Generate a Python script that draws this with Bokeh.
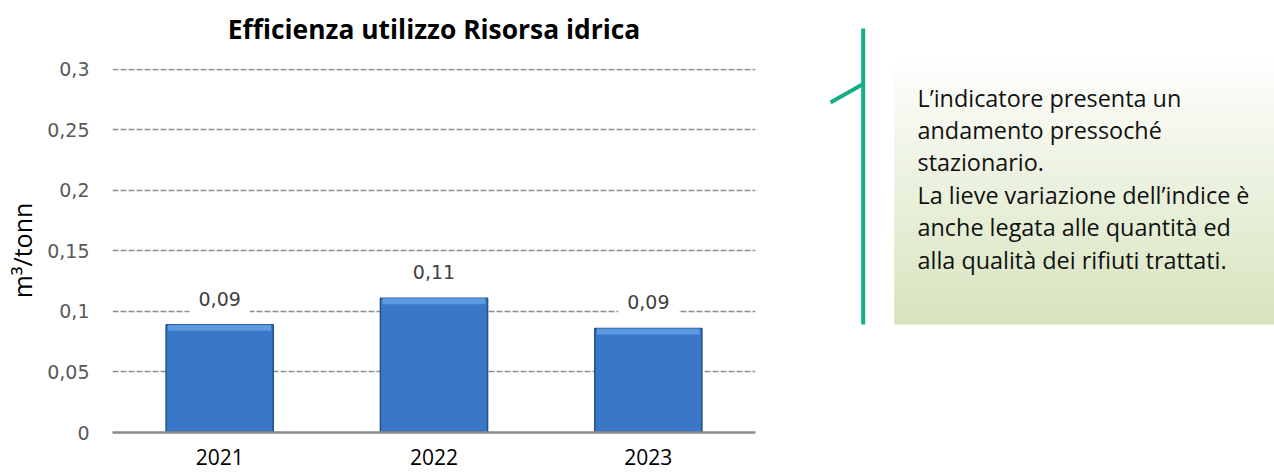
from bokeh.plotting import figure
from bokeh.models import FactorRange, Range1d, FixedTicker, ColumnDataSource, Title
from bokeh.layouts import row
from bokeh.embed import file_html
from bokeh.resources import INLINE
from bokeh.core.properties import value

# ---------------- data ----------------
years = ["2021", "2022", "2023"]
values = [0.089, 0.111, 0.086]
value_labels = ["0,09", "0,11", "0,09"]
y_ticks = [0, 0.05, 0.1, 0.15, 0.2, 0.25, 0.3]
y_tick_labels = ["0", "0,05", "0,1", "0,15", "0,2", "0,25", "0,3"]
title_text = "Efficienza utilizzo Risorsa idrica"
y_title = "m³/tonn"
note_lines = [
    "L’indicatore presenta un",
    "andamento pressoché",
    "stazionario.",
    "La lieve variazione dell’indice è",
    "anche legata alle quantità ed",
    "alla qualità dei rifiuti trattati.",
]

# ---------------- chart ----------------
p = figure(width=800, height=472, x_range=FactorRange(*years),
           y_range=Range1d(0, 0.3008), output_backend="svg", toolbar_location=None,
           min_border_left=112, min_border_right=45, min_border_top=68,
           min_border_bottom=40)
p.outline_line_color = None
p.background_fill_color = "white"

# spacer between frame and title, pushes the title upwards
p.add_layout(Title(text=" ", text_font_size="4px"), "above")

p.title.text = title_text
p.title.align = "center"
p.title.text_font = "Open Sans"
p.title.text_font_style = "bold"
p.title.text_font_size = "26.4px"
p.title.text_color = "black"

src = ColumnDataSource(dict(x=years, top=values, lab=value_labels,
                            hl=[v - 0.005 for v in values]))

p.vbar(x="x", top="top", width=0.5, source=src, fill_color="#3a77c6",
       line_color="#24508c", line_width=1.5)
p.vbar(x="x", top="top", bottom="hl", width=0.48, source=src,
       fill_color="#5c9ae2", line_color=None)

p.text(x="x", y="top", text="lab", source=src, y_offset=-26,
       text_align="center", text_baseline="middle",
       text_font=value("DejaVu Sans"), text_font_size="19px",
       text_color="#404040", background_fill_color="white", padding=9)

p.xgrid.grid_line_color = None
p.ygrid.grid_line_color = "#8e8e8e"
p.ygrid.grid_line_width = 1.5
p.ygrid.grid_line_dash = "6 2"

p.yaxis.ticker = FixedTicker(ticks=y_ticks)
p.yaxis.major_label_overrides = {t: l for t, l in zip(y_ticks, y_tick_labels)}
p.yaxis.axis_line_color = None
p.yaxis.major_tick_line_color = None
p.yaxis.minor_tick_line_color = None
p.yaxis.major_tick_out = 0
p.yaxis.major_tick_in = 0
p.yaxis.major_label_standoff = 23
p.yaxis.major_label_text_font = "DejaVu Sans"
p.yaxis.major_label_text_font_size = "19px"
p.yaxis.major_label_text_color = "#595959"
p.yaxis.axis_label = y_title
p.yaxis.axis_label_standoff = 5
p.yaxis.axis_label_text_font = "Open Sans"
p.yaxis.axis_label_text_font_style = "normal"
p.yaxis.axis_label_text_font_size = "25px"
p.yaxis.axis_label_text_color = "black"

p.xaxis.axis_line_color = "#8a8a8a"
p.xaxis.axis_line_width = 2.5
p.xaxis.major_tick_line_color = None
p.xaxis.major_tick_out = 0
p.xaxis.major_tick_in = 0
p.xaxis.major_label_standoff = 16
p.xaxis.major_label_text_font = "Open Sans"
p.xaxis.major_label_text_font_size = "21px"
p.xaxis.major_label_text_color = "black"

# ---------------- note panel ----------------
q = figure(width=474, height=472, x_range=Range1d(0, 474),
           output_backend="svg", toolbar_location=None, min_border=0)
if "frame_align" in q.properties():
    p.frame_align = False
    q.frame_align = False
    q.y_range = Range1d(472, 0)
else:
    q.min_border_top = 68
    q.min_border_bottom = 40
    q.y_range = Range1d(432, 68)
q.axis.visible = False
q.grid.grid_line_color = None
q.outline_line_color = None

n = 90
top_y, bot_y = 53, 324
c0 = (255, 255, 255)
c1 = (214, 227, 188)
tops, bots, cols = [], [], []
for i in range(n):
    t = i / (n - 1)
    tops.append(top_y + (bot_y - top_y) * i / n)
    bots.append(top_y + (bot_y - top_y) * (i + 1) / n)
    cols.append("#%02x%02x%02x" % tuple(round(a + (b - a) * t) for a, b in zip(c0, c1)))
q.quad(left=94, right=474, top=tops, bottom=bots, fill_color=cols, line_color=cols,
       line_width=0.5)

q.segment(x0=[62.7, 30], y0=[28, 102], x1=[62.7, 62.7], y1=[324, 83.5],
          line_color="#14ae86", line_width=4)

q.text(x=[117] * len(note_lines), y=[97 + 32.4 * i for i in range(len(note_lines))],
       text=note_lines, text_font=value("Open Sans"), text_font_size="23.4px",
       text_color="#111111", text_baseline="middle", text_align="left")

layout = row(p, q)
open("out.html", "w").write(file_html(layout, INLINE))
